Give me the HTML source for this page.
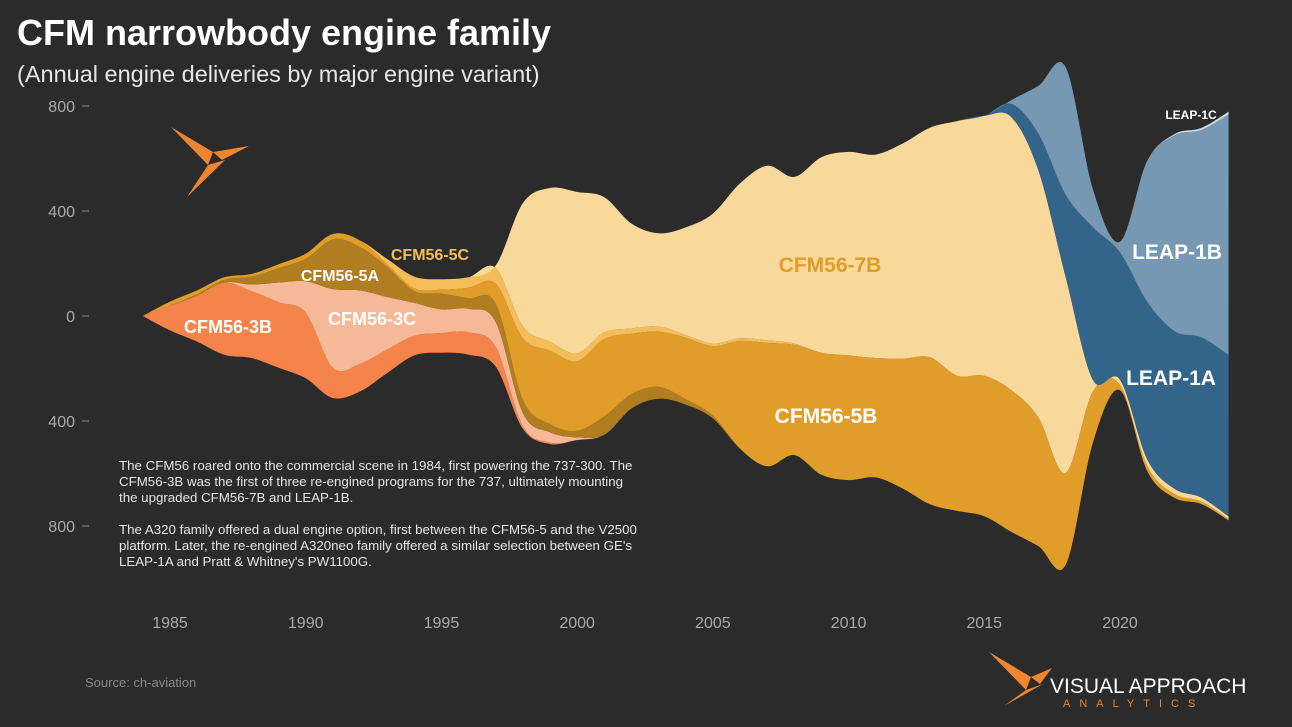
<!DOCTYPE html>
<html><head><meta charset="utf-8">
<style>
body{margin:0;background:#2b2b2b;}
svg{display:block;font-family:"Liberation Sans",sans-serif;}
</style></head>
<body>
<svg id="c" width="1292" height="727" viewBox="0 0 1292 727">
<rect width="1292" height="727" fill="#2b2b2b"/>
<text x="17" y="45" font-size="36" font-weight="bold" fill="#fff">CFM narrowbody engine family</text>
<text x="17" y="82" font-size="23.5" fill="#e6e6e6">(Annual engine deliveries by major engine variant)</text>
<g id="axes"></g>
<g id="layers"></g>
<g id="logo-top">
<polygon points="171,127 213,152 208,165" fill="#f0852f"/>
<polygon points="213,152 249,146 222,160" fill="#f0852f"/>
<polygon points="225,160 187,197 208,165" fill="#f0852f"/>
</g>
<g font-weight="bold" text-anchor="middle">
<text x="228" y="333" font-size="18" fill="#fff">CFM56-3B</text>
<text x="372" y="325" font-size="18" fill="#fff">CFM56-3C</text>
<text x="340" y="281" font-size="16" fill="#fff">CFM56-5A</text>
<text x="430" y="260" font-size="16" fill="#f5bd58">CFM56-5C</text>
<text x="830" y="272" font-size="21" fill="#e09d29">CFM56-7B</text>
<text x="826" y="423" font-size="21" fill="#fff">CFM56-5B</text>
<text x="1177" y="259" font-size="21" fill="#fff">LEAP-1B</text>
<text x="1171" y="385" font-size="21" fill="#fff">LEAP-1A</text>
<text x="1191" y="119" font-size="12" fill="#fff">LEAP-1C</text>
</g>
<g font-size="13.3" fill="#e6e6e6">
<text x="119" y="470">The CFM56 roared onto the commercial scene in 1984, first powering the 737-300.  The</text>
<text x="119" y="486">CFM56-3B was the first of three re-engined programs for the 737, ultimately mounting</text>
<text x="119" y="502">the upgraded CFM56-7B and LEAP-1B.</text>
<text x="119" y="534">The A320 family offered a dual engine option, first between the CFM56-5 and the V2500</text>
<text x="119" y="550">platform.  Later, the re-engined A320neo family offered a similar selection between GE's</text>
<text x="119" y="566">LEAP-1A and Pratt &amp; Whitney's PW1100G.</text>
</g>
<text x="85" y="687" font-size="13" fill="#8a8a8a">Source: ch-aviation</text>
<g>
<polygon points="989,652 1031,677 1026,690" fill="#f0852f"/>
<polygon points="1031,677 1052,668 1040,684" fill="#f0852f"/>
<polygon points="1043,684 1004,706 1026,690" fill="#f0852f"/>
<text x="1050" y="693" font-size="21" fill="#fff">VISUAL APPROACH</text>
<text x="1063" y="707" font-size="11" fill="#f0852f" letter-spacing="9">ANALYTICS</text>
</g>
</svg>
<script>
const years = [];for(let y=1984;y<=2024;y++)years.push(y);
const seriesNames = ["CFM56-3B","CFM56-3C","CFM56-5A","CFM56-5B","CFM56-5C","CFM56-7B","LEAP-1A","LEAP-1B","LEAP-1C"];
const s3B = [0,95,175,275,255,250,250,115,105,90,75,75,85,75,10,5,0,0,0,0,0,0,0,0,0,0,0,0,0,0,0,0,0,0,0,0,0,0,0,0,0];
const s3C = [0,0,0,0,25,75,120,300,280,200,125,90,90,95,50,40,10,0,0,0,0,0,0,0,0,0,0,0,0,0,0,0,0,0,0,0,0,0,0,0,0];
const s5A = [0,0,5,10,30,55,85,190,165,115,45,60,40,70,50,30,25,70,55,45,20,10,0,0,0,0,0,0,0,0,0,0,0,0,0,0,0,0,0,0,0];
const s5B = [0,15,15,10,10,15,20,20,25,10,10,15,40,75,235,280,265,295,230,210,235,265,410,470,420,465,475,455,495,560,515,535,540,490,350,195,20,20,15,10,5];
const s5C = [0,0,0,0,0,0,0,0,0,20,45,40,40,60,45,35,30,25,20,20,10,10,10,10,5,0,0,0,0,0,0,0,0,0,0,0,0,0,0,0,0];
const s7B = [0,0,0,0,0,0,0,0,0,0,0,0,0,10,470,585,615,515,400,355,410,495,590,665,635,745,775,775,820,875,970,990,1040,940,745,45,20,25,20,15,10];
const s1A = [0,0,0,0,0,0,0,0,0,0,0,0,0,0,0,0,0,0,0,0,0,0,0,0,0,0,0,0,0,0,0,0,50,140,315,580,485,600,600,610,615];
const s1B = [0,0,0,0,0,0,0,0,0,0,0,0,0,0,0,0,0,0,0,0,0,0,0,0,0,0,0,0,0,0,0,0,15,185,485,145,40,535,745,790,915];
const s1C = [0,0,0,0,0,0,0,0,0,0,0,0,0,0,0,0,0,0,0,0,0,0,0,0,0,0,0,0,0,0,0,0,0,0,0,0,0,0,5,8,12];
const yTicks = [800,400,0,-400,-800];
const xTicks = [1985,1990,1995,2000,2005,2010,2015,2020];

const NS="http://www.w3.org/2000/svg";
const xS = y => 170 + (y-1985)*(950/35);
const yS = v => 316 - v*(210/800);
const layers = [
 {d:s3B,c:"#f5844a",n:"stream-cfm56-3b"},
 {d:s3C,c:"#f7b898",n:"stream-cfm56-3c"},
 {d:s5A,c:"#b07d20",n:"stream-cfm56-5a"},
 {d:s5B,c:"#e09d29",n:"stream-cfm56-5b"},
 {d:s5C,c:"#f5bd58",n:"stream-cfm56-5c"},
 {d:s7B,c:"#f8d99b",n:"stream-cfm56-7b"},
 {d:s1A,c:"#33658a",n:"stream-leap-1a"},
 {d:s1B,c:"#7698b3",n:"stream-leap-1b"},
 {d:s1C,c:"#c8d6e2",n:"stream-leap-1c"}
];
const N=years.length;
const base=[];for(let i=0;i<N;i++){let t=0;layers.forEach(l=>t+=l.d[i]);base.push(-t/2);}
function curve(pts){
 let s="";
 for(let i=0;i<pts.length-1;i++){
  const p0=pts[Math.max(0,i-1)],p1=pts[i],p2=pts[i+1],p3=pts[Math.min(pts.length-1,i+2)];
  const c1=[p1[0]+(p2[0]-p0[0])/6,p1[1]+(p2[1]-p0[1])/6];
  const c2=[p2[0]-(p3[0]-p1[0])/6,p2[1]-(p3[1]-p1[1])/6];
  s+=` C${c1[0].toFixed(1)},${c1[1].toFixed(1)} ${c2[0].toFixed(1)},${c2[1].toFixed(1)} ${p2[0].toFixed(1)},${p2[1].toFixed(1)}`;
 }
 return s;
}
const g=document.getElementById("layers");
let cum=base.slice();
layers.forEach(l=>{
 const lo=cum.slice();const hi=cum.map((v,i)=>v+l.d[i]);
 const top=years.map((y,i)=>[xS(y),yS(hi[i])]);
 const bot=years.map((y,i)=>[xS(y),yS(lo[i])]).reverse();
 const p=document.createElementNS(NS,"path");
 p.setAttribute("d",`M${top[0][0]},${top[0][1]}`+curve(top)+` L${bot[0][0]},${bot[0][1]}`+curve(bot)+"Z");
 p.setAttribute("fill",l.c);
 
 
 g.appendChild(p);
 cum=hi;
});
const ax=document.getElementById("axes");
yTicks.forEach(v=>{
 const t=document.createElementNS(NS,"text");
 t.setAttribute("x",75);t.setAttribute("y",yS(v)+6);t.setAttribute("text-anchor","end");
 t.setAttribute("font-size","16");t.setAttribute("fill","#aaa");
 t.textContent=Math.abs(v);
 
 
 ax.appendChild(t);
 const l=document.createElementNS(NS,"line");
 l.setAttribute("x1",82);l.setAttribute("x2",89);l.setAttribute("y1",yS(v));l.setAttribute("y2",yS(v));
 l.setAttribute("stroke","#888");
 
 
 ax.appendChild(l);
});
xTicks.forEach(y=>{
 const t=document.createElementNS(NS,"text");
 t.setAttribute("x",xS(y));t.setAttribute("y",628);t.setAttribute("text-anchor","middle");
 t.setAttribute("font-size","16");t.setAttribute("fill","#aaa");
 t.textContent=y;
 
 
 ax.appendChild(t);
});
</script>
</body></html>
